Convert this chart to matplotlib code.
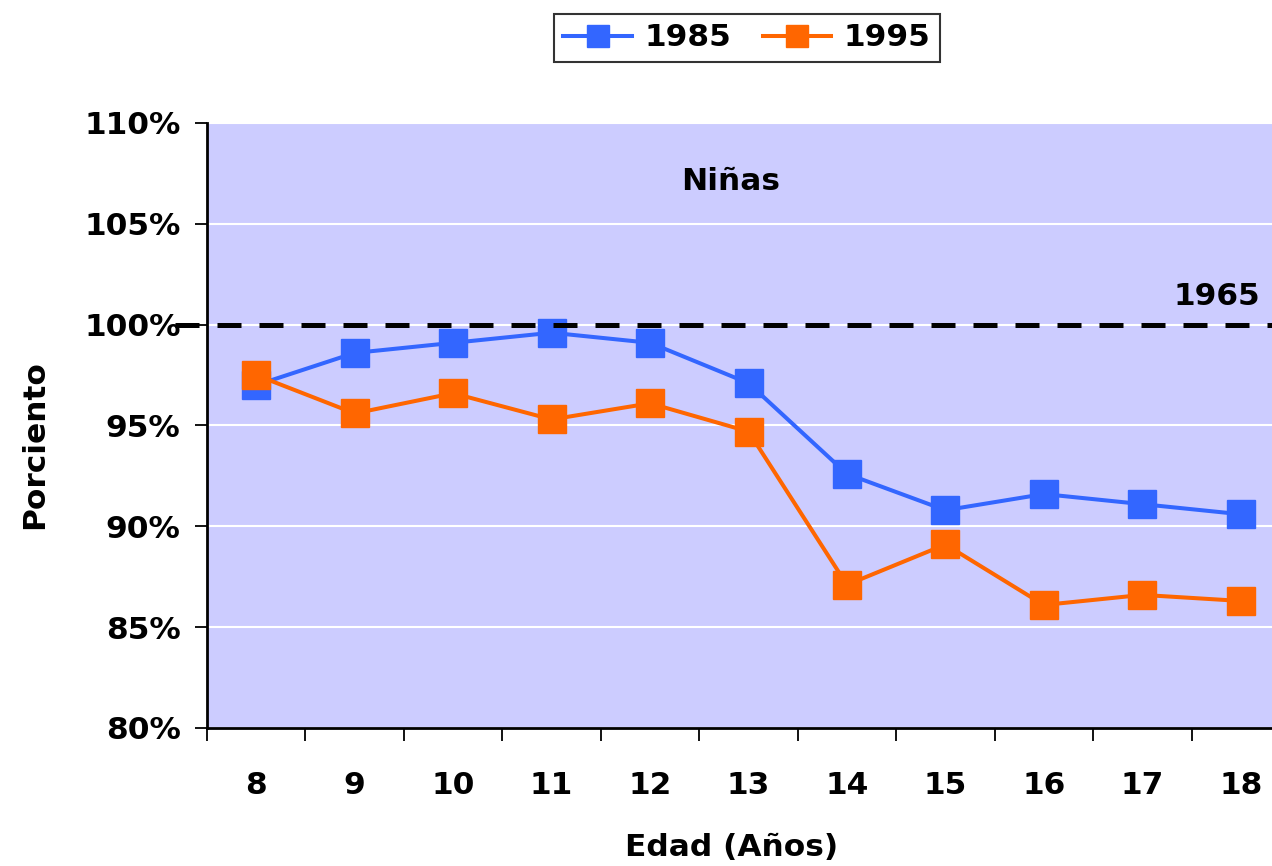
import numpy as np
import matplotlib.pyplot as plt

plt.rcParams['font.family'] = ['DejaVu Sans']
plt.rcParams['font.weight'] = 'bold'

# Data
edades = ['8', '9', '10', '11', '12', '13', '14', '15', '16', '17', '18']
serie_1985 = [97.0, 98.6, 99.1, 99.6, 99.1, 97.1, 92.6, 90.8, 91.6, 91.1, 90.6]
serie_1995 = [97.5, 95.6, 96.6, 95.3, 96.1, 94.7, 87.1, 89.1, 86.1, 86.6, 86.3]
ref_1965 = 100.0

FS = 22.5

fig = plt.figure(figsize=(12.72, 8.66), dpi=100)
ax = fig.add_axes([207/1272, 1-728/866, (1290-207)/1272, (728-123)/866])
ax.set_facecolor('#CCCCFF')

x = np.arange(len(edades))
ax.plot(x, serie_1985, color='#3366FF', lw=2.9, marker='s', ms=20,
        mec='#3366FF', label='1985', zorder=3)
ax.plot(x, serie_1995, color='#FF6600', lw=2.9, marker='s', ms=20,
        mec='#FF6600', label='1995', zorder=4)

# 1965 reference line, runs a bit past the left spine
ax.plot([-0.83, 10.5], [ref_1965, ref_1965], color='black', lw=3.6,
        dashes=(4.8, 3.6), clip_on=False, zorder=5)
ax.text(10.2, 100.7, '1965', fontsize=FS, fontweight='bold', ha='right', va='bottom')
ax.text(4.82, 107.1, 'Niñas', fontsize=FS, fontweight='bold', ha='center', va='center')

ax.set_xlim(-0.5, 10.5)
ax.set_ylim(80, 110)
ax.set_yticks(np.arange(80, 111, 5))
ax.set_yticklabels([f'{v}%' for v in range(80, 111, 5)])
ax.yaxis.grid(True, color='white', lw=1.5)
ax.set_axisbelow(True)

ax.set_xticks(x)
ax.set_xticklabels(edades)
ax.set_xticks(np.arange(-0.5, 10.6, 1), minor=True)
ax.tick_params(axis='x', which='major', length=0, pad=31, labelsize=FS)
ax.tick_params(axis='x', which='minor', length=9, width=1.3, direction='out')
ax.tick_params(axis='y', length=9, width=1.3, direction='out', labelsize=FS, pad=10)
for lab in ax.get_xticklabels() + ax.get_yticklabels():
    lab.set_fontweight('bold')

for side in ['top', 'right']:
    ax.spines[side].set_visible(False)
for side in ['left', 'bottom']:
    ax.spines[side].set_linewidth(2)

ax.set_ylabel('Porciento', fontsize=FS, fontweight='bold')
ax.yaxis.set_label_coords(-(207-35)/(1290-207), (728-445)/(728-123))
ax.set_xlabel('Edad (Años)', fontsize=FS, fontweight='bold')
ax.xaxis.set_label_coords((732-207)/(1290-207), -(848-728)/(728-123))
ax.xaxis.label.set_va('center')
ax.yaxis.label.set_va('center')

leg = fig.legend(loc='center', bbox_to_anchor=(747/1272, 1-38/866), ncol=2,
                 fontsize=FS, frameon=True, fancybox=False, edgecolor='black',
                 handlelength=2.2, markerscale=0.8, columnspacing=1.0,
                 handletextpad=0.4, borderpad=0.3)
leg.get_frame().set_linewidth(1.5)
for t in leg.get_texts():
    t.set_fontweight('bold')

fig.savefig('out.png', dpi=100)
